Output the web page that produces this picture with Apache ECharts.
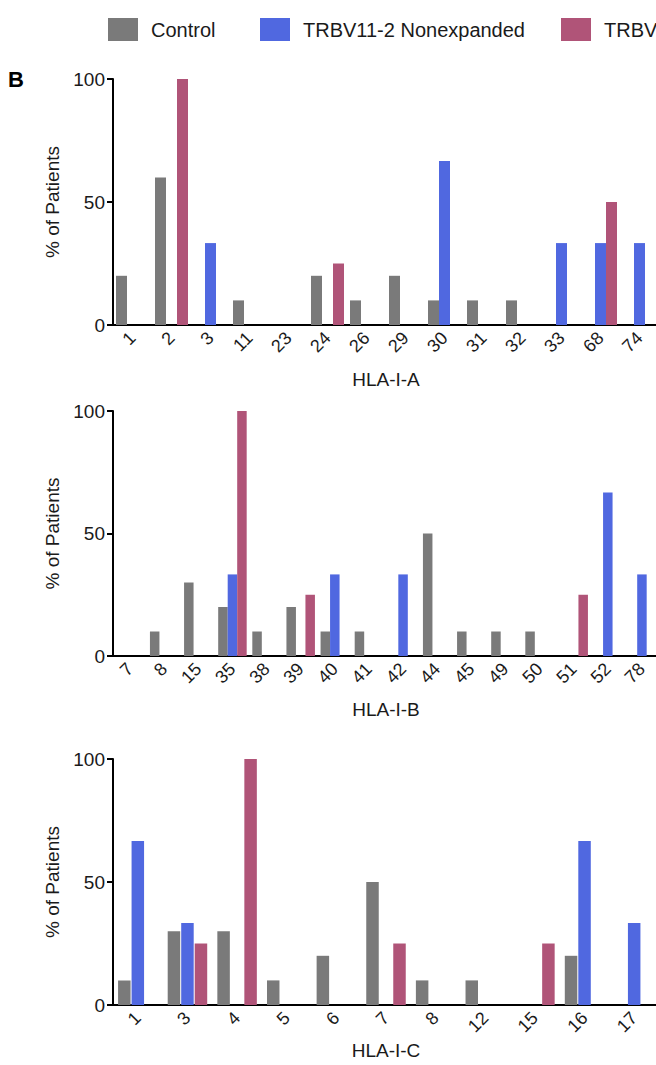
<!DOCTYPE html>
<html>
<head>
<meta charset="utf-8">
<script src="https://cdn.jsdelivr.net/npm/echarts@6/dist/echarts.min.js"></script>
<style>
html,body{margin:0;padding:0;background:#fff;overflow:hidden;width:656px;height:1065px;}
#chart{width:680px;height:1065px;}
</style>
</head>
<body>
<div id="chart"></div>
<script>
// ---- data ----
const seriesNames = ['Control', 'TRBV11-2 Nonexpanded', 'TRBV11-2 Expanded'];
const axisNames = ['HLA-I-A', 'HLA-I-B', 'HLA-I-C'];
const yTicks = [0, 50, 100];

const catsA = ['1','2','3','11','23','24','26','29','30','31','32','33','68','74'];
const controlA = [20,60,0,10,0,20,10,20,10,10,10,0,0,0];
const nonexpA  = [0,0,33.3,0,0,0,0,0,66.7,0,0,33.3,33.3,33.3];
const expA     = [0,100,0,0,0,25,0,0,0,0,0,0,50,0];

const catsB = ['7','8','15','35','38','39','40','41','42','44','45','49','50','51','52','78'];
const controlB = [0,10,30,20,10,20,10,10,0,50,10,10,10,0,0,0];
const nonexpB  = [0,0,0,33.3,0,0,33.3,0,33.3,0,0,0,0,0,66.7,33.3];
const expB     = [0,0,0,100,0,25,0,0,0,0,0,0,0,25,0,0];

const catsC = ['1','3','4','5','6','7','8','12','15','16','17'];
const controlC = [10,30,30,10,20,50,10,10,0,20,0];
const nonexpC  = [66.7,33.3,0,0,0,0,0,0,0,66.7,33.3];
const expC     = [0,25,100,0,0,25,0,0,25,0,0];

// ---- styling ----
const colors = ['#7a7a7a', '#5068e0', '#b05478'];
const FONT = '"Liberation Sans", Arial, Helvetica, sans-serif';
const TXT = '#1a1a1a';

const panels = [
  {cats: catsA, data: [controlA, nonexpA, expA], top: 79, height: 246, barWidth: 11, barGap: '0%', nameGap: 45},
  {cats: catsB, data: [controlB, nonexpB, expB], top: 411, height: 245, barWidth: 9.5, barGap: '0%', nameGap: 44},
  {cats: catsC, data: [controlC, nonexpC, expC], top: 759, height: 246, barWidth: 12.5, barGap: '8%', nameGap: 36}
];

const grid = [], xAxis = [], yAxis = [], series = [];
panels.forEach((p, i) => {
  grid.push({left: 113, width: 546, top: p.top, height: p.height, containLabel: false});
  xAxis.push({
    type: 'category', gridIndex: i, data: p.cats,
    name: axisNames[i], nameLocation: 'middle', nameGap: p.nameGap,
    nameTextStyle: {fontFamily: FONT, fontSize: 19, color: TXT},
    axisLine: {lineStyle: {color: '#000', width: 2}},
    axisTick: {alignWithLabel: true, length: 6, lineStyle: {color: '#000', width: 2}},
    axisLabel: {rotate: 45, fontFamily: FONT, fontSize: 18, color: TXT, margin: 10, interval: 0},
    splitLine: {show: false}
  });
  yAxis.push({
    type: 'value', gridIndex: i, min: yTicks[0], max: yTicks[yTicks.length - 1], interval: 50,
    name: '% of Patients', nameLocation: 'middle', nameGap: 50,
    nameTextStyle: {fontFamily: FONT, fontSize: 19, color: TXT},
    axisLine: {show: true, lineStyle: {color: '#000', width: 2}},
    axisTick: {show: true, length: 6, lineStyle: {color: '#000', width: 2}},
    axisLabel: {fontFamily: FONT, fontSize: 19, color: TXT, margin: 8},
    splitLine: {show: false}
  });
  p.data.forEach((d, s) => {
    series.push({
      type: 'bar', name: seriesNames[s], xAxisIndex: i, yAxisIndex: i,
      data: d, barWidth: p.barWidth, barGap: p.barGap,
      itemStyle: {color: colors[s]},
      emphasis: {disabled: true}, animation: false
    });
  });
});

const legendLefts = [103, 255, 556];
const legend = seriesNames.map((n, k) => ({
  data: [n], left: legendLefts[k], top: 13, orient: 'horizontal',
  itemWidth: 30, itemHeight: 23, icon: 'rect',
  textStyle: {fontFamily: FONT, fontSize: 20, color: TXT, padding: [0, 0, 0, 8]},
  selectedMode: false
}));

const chart = echarts.init(document.getElementById('chart'), null, {renderer: 'svg'});
chart.setOption({
  animation: false,
  color: colors,
  title: {text: 'B', left: 3, top: 63, textStyle: {fontFamily: FONT, fontSize: 22, fontWeight: 'bold', color: '#000'}},
  legend: legend,
  grid: grid, xAxis: xAxis, yAxis: yAxis, series: series
});
</script>
</body>
</html>
